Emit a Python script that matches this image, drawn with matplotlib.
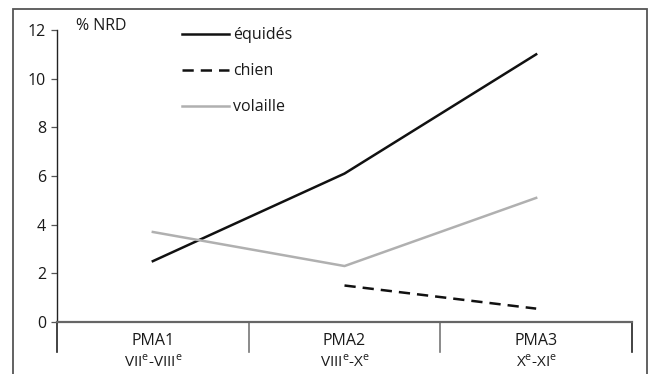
import numpy as np
import matplotlib.pyplot as plt
from matplotlib.patches import Rectangle

# data
periods = ['PMA1', 'PMA2', 'PMA3']
centuries = ['VII$^{\\mathrm{e}}$-VIII$^{\\mathrm{e}}$',
             'VIII$^{\\mathrm{e}}$-X$^{\\mathrm{e}}$',
             'X$^{\\mathrm{e}}$-XI$^{\\mathrm{e}}$']
equides = [2.5, 6.1, 11.0]
chien = [np.nan, 1.5, 0.55]
volaille = [3.7, 2.3, 5.1]
yticks = [0, 2, 4, 6, 8, 10, 12]

plt.rcParams['font.family'] = ['Open Sans', 'DejaVu Sans']
plt.rcParams['mathtext.fontset'] = 'custom'
plt.rcParams['mathtext.rm'] = 'Open Sans'

W, H = 650, 374
FS = 11.5
TXT = '#1a1a1a'
fig = plt.figure(figsize=(6.5, 3.74), dpi=100)

def fx(px):
    return px / W

def fy(py):
    return 1 - py / H

# outer frame
fig.patches.append(Rectangle((fx(13), fy(400)), fx(647) - fx(13), fy(9) - fy(400),
                             transform=fig.transFigure, fill=False,
                             edgecolor='#555555', linewidth=1.3, clip_on=False))

ax = fig.add_axes([fx(57), fy(322), fx(632) - fx(57), fy(30) - fy(322)])
x = np.arange(len(periods))

ax.plot(x, equides, color='#111111', linewidth=1.8, label='équidés')
ax.plot(x, chien, color='#111111', linewidth=1.8, linestyle=(0, (4.5, 2.8)), label='chien')
ax.plot(x, volaille, color='#b0b0b0', linewidth=1.8, label='volaille')

ax.set_xlim(-0.5, 2.5)
ax.set_ylim(0, 12)
ax.set_yticks(yticks)
ax.set_xticks([])
ax.tick_params(axis='y', direction='out', length=4, width=0.9, color='#555555',
               labelsize=FS, labelcolor=TXT, pad=4)
for s in ['top', 'right']:
    ax.spines[s].set_visible(False)
ax.spines['left'].set_color('#222222')
ax.spines['left'].set_linewidth(1.0)
ax.spines['bottom'].set_color('#666666')
ax.spines['bottom'].set_linewidth(1.6)

# category dividers and labels below the axis
trans = ax.get_xaxis_transform()
span = 322 - 30
div_drop = (352 - 322) / span
for xd, col in zip([-0.5, 0.5, 1.5, 2.5], ['#222222', '#777777', '#777777', '#222222']):
    ax.plot([xd, xd], [0, -div_drop], transform=trans, color=col,
            linewidth=1.2, clip_on=False)
lab1 = -(341 - 322) / span
lab2 = -(362 - 322) / span
for i in range(len(periods)):
    ax.text(x[i], lab1, periods[i], transform=trans, ha='center', va='center',
            fontsize=FS, color=TXT)
    ax.text(x[i], lab2, centuries[i], transform=trans, ha='center', va='center',
            fontsize=11, color=TXT)

fig.text(fx(76), fy(26), '% NRD', ha='left', va='center', fontsize=FS, color=TXT)

ax.legend(loc='upper left', bbox_to_anchor=(fx(168), fy(13)),
          bbox_transform=fig.transFigure, frameon=False, fontsize=FS,
          handlelength=2.9, handletextpad=0.25, labelspacing=1.25,
          labelcolor=TXT)

fig.savefig('out.png', dpi=100)
